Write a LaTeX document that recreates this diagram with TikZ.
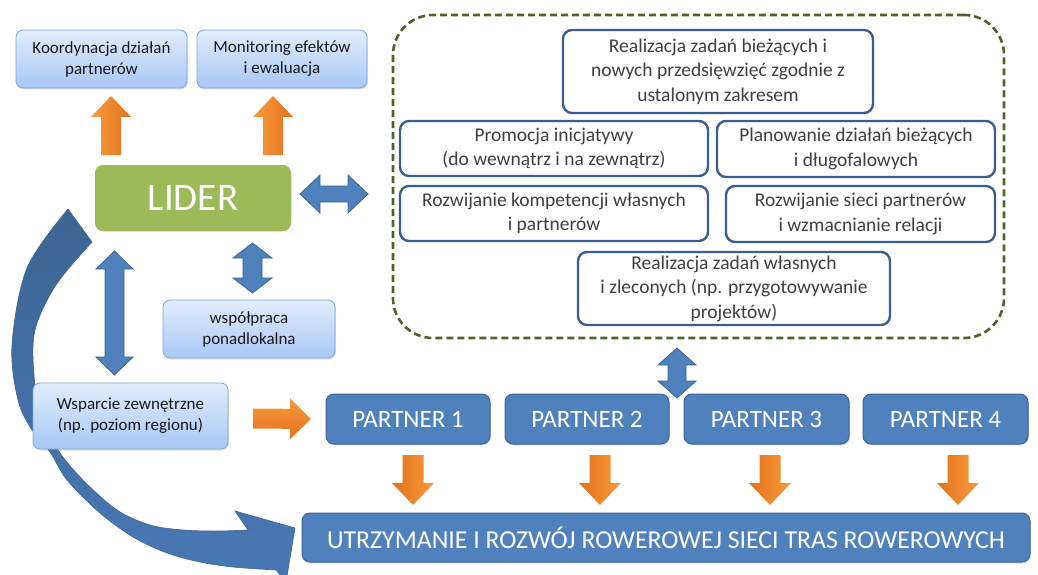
\documentclass[tikz,border=0pt]{standalone}
\usepackage{fontspec}
\setmainfont{Carlito}
\usetikzlibrary{calc,shadows}

\definecolor{pFill}{HTML}{4F81BD}
\definecolor{pBorder}{HTML}{3B6496}
\definecolor{lbTop}{HTML}{E1EDFC}
\definecolor{lbBot}{HTML}{A8C7F5}
\definecolor{lbBorder}{HTML}{7FA4D9}
\definecolor{liderGreen}{HTML}{9BBB59}
\definecolor{olive}{HTML}{4F6228}
\definecolor{wbBorder}{HTML}{3A5F8F}
\definecolor{txtGray}{HTML}{3F3F3F}
\definecolor{txtDark}{HTML}{1A1A1A}
\definecolor{orLight}{HTML}{F99B3C}
\definecolor{orDark}{HTML}{E2711D}
\definecolor{curveTop}{HTML}{3D6594}
\definecolor{curveBot}{HTML}{4878B4}

% double block arrow: style, end A, end B, head length, head half width, shaft half width
\newcommand{\dblarr}[6]{%
  \path (#2) coordinate (da1) (#3) coordinate (da2);
  \path ($(da1)!#4!(da2)$) coordinate (dh1) ($(da2)!#4!(da1)$) coordinate (dh2);
  \path[#1] (da1) -- ($(dh1)!#5!90:(da2)$) -- ($(dh1)!#6!90:(da2)$)
    -- ($(dh2)!#6!-90:(da1)$) -- ($(dh2)!#5!-90:(da1)$) -- (da2)
    -- ($(dh2)!#5!90:(da1)$) -- ($(dh2)!#6!90:(da1)$)
    -- ($(dh1)!#6!-90:(da2)$) -- ($(dh1)!#5!-90:(da2)$) -- cycle;}
% single block arrow: style, tail, tip, head length, head half width, shaft half width
\newcommand{\sglarr}[6]{%
  \path (#2) coordinate (sa1) (#3) coordinate (sa2);
  \path ($(sa2)!#4!(sa1)$) coordinate (sh);
  \path[#1] ($(sa1)!#6!90:(sa2)$) -- ($(sh)!#6!-90:(sa1)$) -- ($(sh)!#5!-90:(sa1)$)
    -- (sa2) -- ($(sh)!#5!90:(sa1)$) -- ($(sh)!#6!90:(sa1)$)
    -- ($(sa1)!#6!-90:(sa2)$) -- cycle;}

\tikzset{
  lbox/.style={rounded corners=7pt, draw=lbBorder, line width=0.8pt,
    top color=lbTop, bottom color=lbBot, align=center, text=txtDark,
    font=\fontsize{17}{21}\selectfont, inner sep=2pt, outer sep=0pt,
    drop shadow={shadow xshift=0.8pt, shadow yshift=-1.5pt, opacity=0.25}},
  wbox/.style={rounded corners=9pt, draw=wbBorder, line width=2.4pt, fill=white,
    align=center, text=txtGray, font=\fontsize{19.5}{24.5}\selectfont,
    inner sep=1pt, outer sep=0pt},
  pbox/.style={rounded corners=8pt, draw=pBorder, line width=1pt, fill=pFill,
    text=white, font=\fontsize{25}{30}\selectfont, outer sep=0pt,
    minimum height=50, drop shadow={shadow xshift=0.8pt, shadow yshift=-1.5pt, opacity=0.25}},
  liderbox/.style={rounded corners=10pt, draw=white, line width=3.5pt, fill=liderGreen,
    text=white, font=\fontsize{39}{45}\selectfont, outer sep=0pt,
    drop shadow={shadow xshift=1pt, shadow yshift=-1.5pt, opacity=0.35, fill=black!60}},
  groupbox/.style={draw=olive, line width=2.6pt, dash pattern=on 7pt off 4pt,
    rounded corners=40pt, outer sep=0pt},
  bluearr/.style={fill=pFill, draw=pBorder, line width=0.8pt, line join=miter},
  orH/.style={top color=orLight, bottom color=orDark},
  orUp/.style={left color=orLight, right color=orDark},
  orDown/.style={left color=orDark, right color=orLight},
  curvearr/.style={top color=curveTop, bottom color=curveBot, draw=curveTop, line width=0.6pt},
}

\begin{document}
\begin{tikzpicture}[x=1pt, y=-1pt]
\useasboundingbox (0,0) rectangle (1038,575);

% big curved arrow from LIDER round to the bottom bar (drawn first, behind the boxes)
\begin{scope}
\clip (0,0) rectangle (1038,575);
\path[curvearr] plot[smooth, tension=0.55] coordinates
  {(68,209) (27,268) (12,345) (18,400) (32,430) (50,452) (67,480) (100,513)
   (133,537) (167,553) (200,562) (233,567) (276,570)}
  -- (286,582) -- (295,528) -- (235,511)
  -- plot[smooth, tension=0.55] coordinates
  {(248,530) (217,531) (183,530) (150,525) (117,510) (83,480) (58,450)
   (41,415) (34,375) (35,330) (56,285) (92,242)}
  -- cycle;
\end{scope}

% left column boxes
\node[lbox, minimum width=171, minimum height=58] (koord) at (101.5,59)
  {Koordynacja działań\\partnerów};
\node[lbox, minimum width=170, minimum height=58] (monit) at (282,59)
  {Monitoring efektów\\i ewaluacja};
\node[liderbox, minimum width=200, minimum height=70] (lider) at (193,198) {LIDER};
\node[lbox, minimum width=172, minimum height=58] (wspol) at (249,329)
  {współpraca\\ponadlokalna};
\node[lbox, minimum width=195, minimum height=66] (wsparcie) at (130.5,416)
  {Wsparcie zewnętrzne\\(np. poziom regionu)};

% group of tasks
\node[groupbox, minimum width=611, minimum height=323] (grp) at (698.5,176.5) {};
\node[wbox, minimum width=310, minimum height=83] (tzad) at (718,71.5)
  {Realizacja zadań bieżących i\\nowych przedsięwzięć zgodnie z\\ustalonym zakresem};
\node[wbox, minimum width=308, minimum height=55] (promo) at (554,148.5)
  {Promocja inicjatywy\\(do wewnątrz i na zewnątrz)};
\node[wbox, minimum width=278, minimum height=56] (plan) at (856,149)
  {Planowanie działań bieżących\\i długofalowych};
\node[wbox, minimum width=308, minimum height=55] (rkomp) at (554,213.5)
  {Rozwijanie kompetencji własnych\\i partnerów};
\node[wbox, minimum width=269, minimum height=56] (rsieci) at (860.5,214)
  {Rozwijanie sieci partnerów\\i wzmacnianie relacji};
\node[wbox, minimum width=312, minimum height=73] (rwlas) at (734,288.5)
  {Realizacja zadań własnych\\i zleconych (np. przygotowywanie\\projektów)};

% partners
\node[pbox, minimum width=164] (p1) at (408,419) {PARTNER 1};
\node[pbox, minimum width=164] (p2) at (587,419) {PARTNER 2};
\node[pbox, minimum width=165] (p3) at (766.5,419) {PARTNER 3};
\node[pbox, minimum width=165] (p4) at (945.5,419) {PARTNER 4};
\node[pbox, minimum width=728, minimum height=49, font=\fontsize{25.8}{30}\selectfont] (utrz) at (666,537.5)
  {UTRZYMANIE I ROZWÓJ ROWEROWEJ SIECI TRAS ROWEROWYCH};

% orange arrows
\sglarr{orUp}{$(koord.south)+(9.5,67)$}{$(koord.south)+(9.5,8)$}{21pt}{20pt}{10pt}
\sglarr{orUp}{$(monit.south)+(-9,67)$}{$(monit.south)+(-9,8)$}{21pt}{20pt}{10pt}
\sglarr{orH}{$(wsparcie.east)+(25,2.5)$}{$(p1.west)+(-15,0)$}{21pt}{20.5pt}{10pt}
\sglarr{orDown}{$(p1.south)+(5,11)$}{$(utrz.north)+(-253,-8)$}{22pt}{21pt}{10.5pt}
\sglarr{orDown}{$(p2.south)+(13,11)$}{$(utrz.north)+(-66,-8)$}{22pt}{21pt}{10.5pt}
\sglarr{orDown}{$(p3.south)+(3.5,11)$}{$(utrz.north)+(104,-8)$}{22pt}{21pt}{10.5pt}
\sglarr{orDown}{$(p4.south)+(12.5,11)$}{$(utrz.north)+(292,-8)$}{22pt}{21pt}{10.5pt}

% blue double arrows
\dblarr{bluearr}{$(lider.east)+(7,-4)$}{$(grp.west)+(-25,17.5)$}{20pt}{19pt}{8pt}
\dblarr{bluearr}{$(lider.south)+(-78.5,18)$}{$(wsparcie.north)+(-16,-8)$}{18pt}{18.5pt}{9.5pt}
\dblarr{bluearr}{$(lider.south)+(59.5,10)$}{$(wspol.north)+(3.5,-7)$}{15pt}{19.5pt}{9.5pt}
\dblarr{bluearr}{$(grp.south)+(-21.5,10)$}{$(p3.north west)+(-7,4)$}{17pt}{19pt}{9pt}
\end{tikzpicture}
\end{document}
